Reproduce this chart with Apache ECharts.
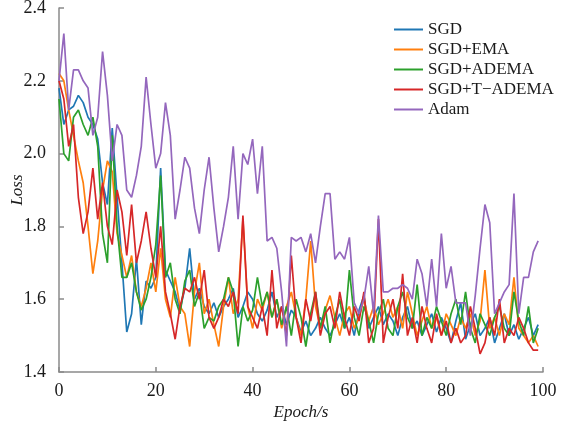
<!DOCTYPE html>
<html>
<head>
<meta charset="utf-8">
<title>Loss curves</title>
<script src="https://cdn.jsdelivr.net/npm/echarts@6/dist/echarts.min.js"></script>
<style>
  html, body { margin: 0; padding: 0; background: #fff; }
  #chart { width: 562px; height: 431px; }
</style>
</head>
<body>
<div id="chart"></div>
<script>
// Training loss per epoch for each optimizer
const epochs = Array.from({ length: 100 }, (_, i) => i);

const seriesNames = ['SGD', 'SGD+EMA', 'SGD+ADEMA', 'SGD+T\u2212ADEMA', 'Adam'];
const seriesColors = ['#1f77b4', '#ff7f0e', '#2ca02c', '#d62728', '#9467bd'];

const lossSGD = [
  2.18, 2.08, 2.12, 2.13, 2.16, 2.14, 2.10, 2.08, 2.04, 1.92,
  1.86, 2.07, 1.88, 1.70, 1.51, 1.56, 1.71, 1.53, 1.65, 1.63,
  1.66, 1.96, 1.68, 1.65, 1.62, 1.57, 1.63, 1.74, 1.60, 1.63,
  1.58, 1.56, 1.59, 1.55, 1.58, 1.60, 1.63, 1.55, 1.58, 1.62,
  1.60, 1.56, 1.54, 1.57, 1.62, 1.55, 1.58, 1.53, 1.57, 1.55,
  1.51, 1.54, 1.50, 1.52, 1.55, 1.52, 1.50, 1.53, 1.56, 1.52,
  1.55, 1.50, 1.57, 1.61, 1.52, 1.55, 1.58, 1.53, 1.56, 1.54,
  1.50, 1.55, 1.58, 1.52, 1.54, 1.50, 1.53, 1.56, 1.51, 1.55,
  1.52, 1.48, 1.54, 1.59, 1.49, 1.53, 1.56, 1.50, 1.52, 1.55,
  1.48, 1.52, 1.56, 1.50, 1.53, 1.49, 1.52, 1.55, 1.50, 1.53
];

const lossEMA = [
  2.22, 2.20, 2.12, 2.05, 1.98, 1.92, 1.80, 1.67, 1.76, 1.90,
  1.98, 1.95, 1.78, 1.72, 1.66, 1.72, 1.62, 1.58, 1.63, 1.70,
  1.62, 1.74, 1.60, 1.55, 1.66, 1.58, 1.56, 1.47, 1.62, 1.70,
  1.56, 1.60, 1.53, 1.47, 1.58, 1.66, 1.56, 1.60, 1.82, 1.58,
  1.52, 1.60, 1.57, 1.62, 1.55, 1.60, 1.52, 1.58, 1.62, 1.55,
  1.50, 1.60, 1.76, 1.58, 1.52, 1.57, 1.61, 1.55, 1.50, 1.56,
  1.58, 1.52, 1.55, 1.60, 1.54, 1.58, 1.53, 1.56, 1.60, 1.55,
  1.58, 1.52, 1.62, 1.56, 1.50, 1.54, 1.58, 1.52, 1.55, 1.50,
  1.56, 1.53, 1.50, 1.55, 1.52, 1.56, 1.50, 1.54, 1.68, 1.52,
  1.55, 1.50, 1.56, 1.53, 1.66, 1.52, 1.50, 1.48, 1.50, 1.47
];

const lossADEMA = [
  2.15, 2.00, 1.98, 2.10, 2.12, 2.08, 2.05, 2.10, 2.02, 1.78,
  1.70, 2.05, 1.80, 1.66, 1.66, 1.70, 1.62, 1.57, 1.60, 1.66,
  1.75, 1.94, 1.66, 1.70, 1.60, 1.56, 1.65, 1.68, 1.58, 1.62,
  1.52, 1.55, 1.54, 1.58, 1.60, 1.66, 1.62, 1.47, 1.58, 1.54,
  1.57, 1.66, 1.58, 1.62, 1.55, 1.60, 1.53, 1.58, 1.50, 1.60,
  1.55, 1.47, 1.56, 1.62, 1.52, 1.58, 1.48, 1.55, 1.60, 1.52,
  1.68, 1.55, 1.50, 1.58, 1.54, 1.48, 1.56, 1.60, 1.52, 1.50,
  1.58, 1.62, 1.55, 1.52, 1.64, 1.50, 1.55, 1.52, 1.58, 1.54,
  1.50, 1.56, 1.60, 1.53, 1.62, 1.52, 1.48, 1.56, 1.53, 1.50,
  1.55, 1.58, 1.52, 1.50, 1.62, 1.54, 1.50, 1.58, 1.48, 1.52
];

const lossTADEMA = [
  2.20, 2.15, 2.02, 2.08, 1.88, 1.78, 1.84, 1.96, 1.82, 1.92,
  1.80, 1.75, 1.90, 1.84, 1.72, 1.86, 1.70, 1.76, 1.84, 1.74,
  1.66, 1.80, 1.62, 1.56, 1.49, 1.58, 1.63, 1.62, 1.66, 1.60,
  1.68, 1.55, 1.52, 1.55, 1.60, 1.58, 1.62, 1.56, 1.83, 1.58,
  1.55, 1.52, 1.58, 1.50, 1.68, 1.52, 1.58, 1.50, 1.72, 1.55,
  1.48, 1.60, 1.54, 1.62, 1.50, 1.56, 1.58, 1.52, 1.62, 1.55,
  1.50, 1.58, 1.54, 1.62, 1.48, 1.52, 1.82, 1.48, 1.55, 1.60,
  1.52, 1.67, 1.50, 1.55, 1.48, 1.58, 1.52, 1.48, 1.56, 1.50,
  1.54, 1.48, 1.52, 1.48, 1.50, 1.58, 1.52, 1.45, 1.48, 1.55,
  1.50, 1.60, 1.48, 1.52, 1.50, 1.55, 1.52, 1.48, 1.46, 1.46
];

const lossAdam = [
  2.20, 2.33, 2.12, 2.23, 2.23, 2.20, 2.18, 2.05, 2.10, 2.28,
  2.16, 1.98, 2.08, 2.05, 1.90, 1.88, 1.94, 2.02, 2.21, 2.08,
  1.96, 2.00, 2.14, 2.05, 1.82, 1.90, 1.99, 1.96, 1.85, 1.78,
  1.90, 1.99, 1.85, 1.73, 1.80, 1.88, 2.02, 1.82, 2.00, 1.97,
  2.04, 1.89, 2.02, 1.76, 1.77, 1.74, 1.62, 1.47, 1.77, 1.76,
  1.77, 1.73, 1.78, 1.70, 1.80, 1.89, 1.89, 1.71, 1.73, 1.71,
  1.77, 1.59, 1.56, 1.60, 1.69, 1.56, 1.83, 1.62, 1.62, 1.63,
  1.63, 1.64, 1.63, 1.60, 1.71, 1.67, 1.58, 1.71, 1.58, 1.78,
  1.63, 1.69, 1.59, 1.59, 1.59, 1.50, 1.61, 1.74, 1.86, 1.81,
  1.56, 1.59, 1.62, 1.64, 1.89, 1.56, 1.66, 1.66, 1.73, 1.76
];

const xTicks = { min: 0, max: 100, interval: 20 };
const yTicks = { min: 1.4, max: 2.4, interval: 0.2 };

const allLoss = [lossSGD, lossEMA, lossADEMA, lossTADEMA, lossAdam];

const serif = '"Liberation Serif", "DejaVu Serif", serif';
const axisColor = '#8a8a8a';

const chart = echarts.init(document.getElementById('chart'), null, { renderer: 'canvas' });

chart.setOption({
  backgroundColor: '#ffffff',
  animation: false,
  grid: { left: 59, right: 19, top: 8, bottom: 59, containLabel: false, outerBoundsMode: 'none' },
  legend: {
    orient: 'vertical',
    left: 389,
    top: 16,
    icon: 'rect',
    itemWidth: 29,
    itemHeight: 2,
    itemGap: 3,
    textStyle: { fontFamily: serif, fontSize: 17, lineHeight: 17, color: '#1a1a1a' },
    data: seriesNames
  },
  xAxis: {
    type: 'value',
    min: xTicks.min,
    max: xTicks.max,
    interval: xTicks.interval,
    name: 'Epoch/s',
    nameLocation: 'middle',
    nameGap: 32,
    nameMoveOverlap: false,
    nameTextStyle: { fontFamily: serif, fontStyle: 'italic', fontSize: 17, color: '#1a1a1a' },
    axisLine: { show: true, lineStyle: { color: axisColor, width: 1.5 } },
    axisTick: { show: true, inside: true, length: 5, lineStyle: { color: axisColor, width: 1.5 } },
    axisLabel: { fontFamily: serif, fontSize: 18, color: '#1a1a1a', margin: 10 },
    splitLine: { show: false }
  },
  yAxis: {
    type: 'value',
    min: yTicks.min,
    max: yTicks.max,
    interval: yTicks.interval,
    name: 'Loss',
    nameLocation: 'middle',
    nameGap: 33,
    nameRotate: 90,
    nameMoveOverlap: false,
    nameTextStyle: { fontFamily: serif, fontStyle: 'italic', fontSize: 17, color: '#1a1a1a' },
    axisLine: { show: true, lineStyle: { color: axisColor, width: 1.5 } },
    axisTick: { show: true, inside: true, length: 5, lineStyle: { color: axisColor, width: 1.5 } },
    axisLabel: {
      fontFamily: serif, fontSize: 18, color: '#1a1a1a', margin: 13,
      formatter: v => v.toFixed(1)
    },
    splitLine: { show: false }
  },
  series: seriesNames.map((name, i) => ({
    name,
    type: 'line',
    symbol: 'none',
    color: seriesColors[i],
    lineStyle: { width: 1.7, color: seriesColors[i] },
    data: epochs.map((e, j) => [e, allLoss[i][j]]),
    z: 2 + i
  }))
});
</script>
</body>
</html>
